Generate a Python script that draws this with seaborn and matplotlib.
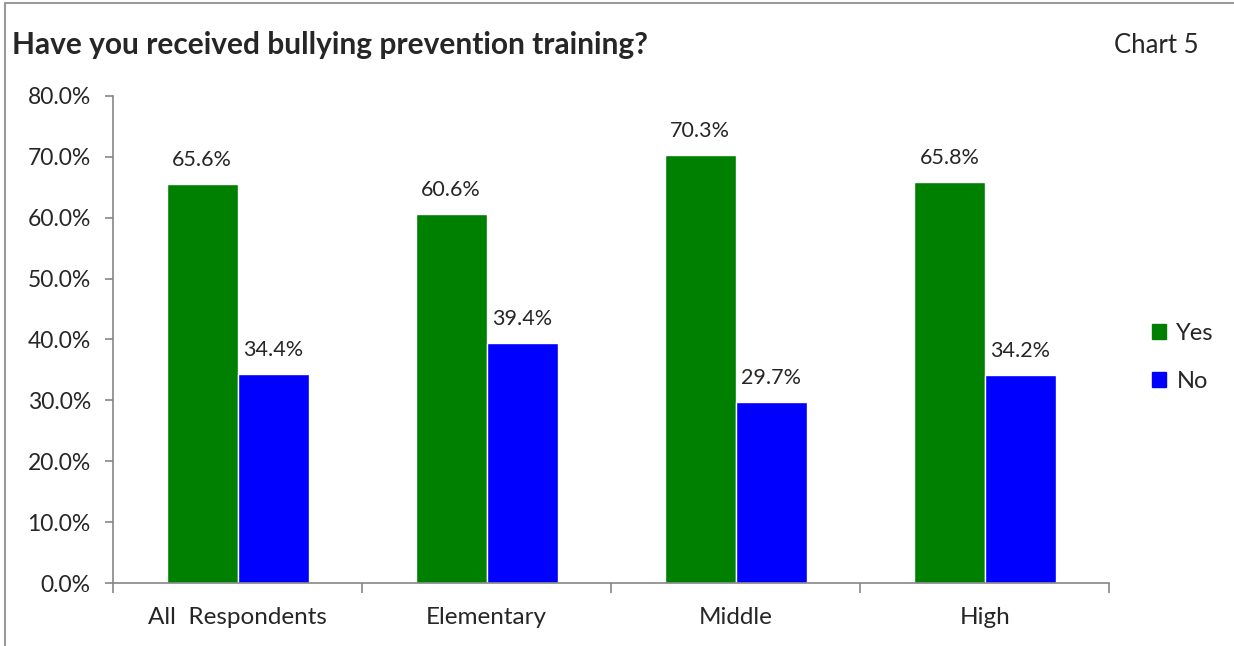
import pandas as pd
import matplotlib.pyplot as plt
import seaborn as sns
from matplotlib.patches import Rectangle

# Chart data
groups = ["All  Respondents", "Elementary", "Middle", "High"]
yes_vals = [65.6, 60.6, 70.3, 65.8]
no_vals = [34.4, 39.4, 29.7, 34.2]
series = ["Yes", "No"]
colors = {"Yes": "#008000", "No": "#0000FF"}

df = pd.DataFrame({
    "group": groups * 2,
    "answer": ["Yes"] * len(groups) + ["No"] * len(groups),
    "pct": yes_vals + no_vals,
})

sns.set_style("white")
plt.rcParams["font.family"] = ["Lato", "DejaVu Sans"]

fig = plt.figure(figsize=(12.34, 6.46), dpi=100)
ax = fig.add_axes([0.0916, 0.0975, 0.8075, 0.754])

sns.barplot(data=df, x="group", y="pct", hue="answer", hue_order=series,
            palette=colors, width=0.57, saturation=1, ax=ax, legend=False)

# value labels
for cont in ax.containers:
    ax.bar_label(cont, labels=[f"{v:.1f}%" for v in cont.datavalues],
                 padding=10, fontsize=15.5)

ax.set_ylim(0, 80)
ax.set_xlim(-0.5, len(groups) - 0.5)
ax.set_yticks(range(0, 81, 10))
ax.set_yticklabels([f"{t:.1f}%" for t in range(0, 81, 10)], fontsize=16.5)
ax.set_xticks(range(len(groups)))
ax.set_xticklabels(groups, fontsize=17.5)
ax.set_xlabel("")
ax.set_ylabel("")

for s in ["top", "right"]:
    ax.spines[s].set_visible(False)
for s in ["left", "bottom"]:
    ax.spines[s].set_color("#868686")
    ax.spines[s].set_linewidth(1.2)

ax.tick_params(axis="y", length=6, color="#868686", width=1.2, left=True, pad=10)
ax.tick_params(axis="x", length=0, pad=17)
# category boundary ticks on x axis
ax.set_xticks([i - 0.5 for i in range(len(groups) + 1)], minor=True)
ax.tick_params(axis="x", which="minor", length=7, color="#868686", width=1.2, bottom=True)

# legend
handles = [Rectangle((0, 0), 1, 1, color=colors[s]) for s in series]
fig.legend(handles, series, loc="center left", bbox_to_anchor=(0.916, 0.447),
           frameon=False, fontsize=17, handlelength=0.6, handleheight=0.6,
           handletextpad=0.45, labelspacing=1.15)

fig.text(0.01, 0.93, "Have you received bullying prevention training?",
         fontsize=21.5, fontweight="bold", va="center")
fig.text(0.971, 0.93, "Chart 5", fontsize=18.5, va="center", ha="right")

# outer frame (left and top)
fig.add_artist(plt.Line2D([0.004, 0.004], [0, 0.995], color="#9a9a9a", lw=1.5))
fig.add_artist(plt.Line2D([0.004, 1.0], [0.995, 0.995], color="#9a9a9a", lw=1.5))

fig.savefig("out.png", dpi=100)
